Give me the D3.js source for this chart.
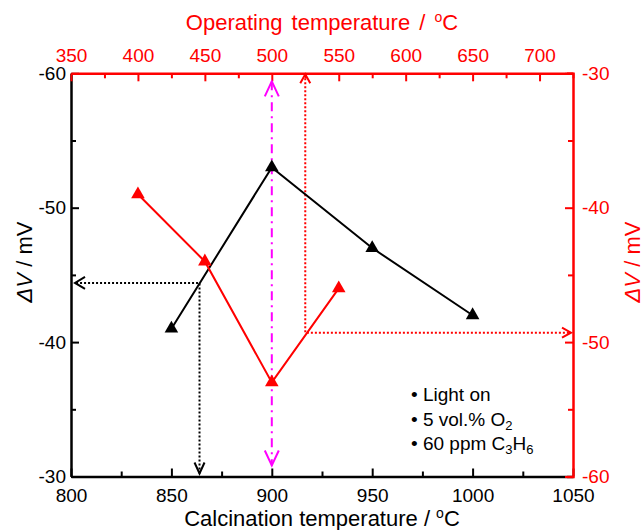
<!doctype html>
<html>
  <head>
    <meta charset="utf-8" />
    <title>Calcination / operating temperature</title>
    <style>
      body { margin: 0; background: #fff; }
      svg { display: block; }
      text { font-family: "Liberation Sans", Arial, sans-serif; }
    </style>
  </head>
  <body>
    <svg id="chart" width="644" height="530"></svg>
    <script src="https://d3js.org/d3.v7.min.js"></script>
    <script>
      // black series: calcination temperature (bottom) vs dV (left)
      const calcTemps = [850, 900, 950, 1000];
      const calcDV = [-41, -53, -47, -42];
      // red series: operating temperature (top) vs dV (right)
      const operTemps = [400, 450, 500, 550];
      const operDV = [-39, -44, -53, -46];

      const bottomTicks = [800, 850, 900, 950, 1000, 1050];
      const topTicks = [350, 400, 450, 500, 550, 600, 650, 700];
      const leftTicks = [-60, -50, -40, -30];
      const rightTicks = [-30, -40, -50, -60];

      // guide lines
      const peakCalc = [900];            // magenta dash-dot
      const blackGuide = [864, -44.4];   // calcination, left dV
      const redGuide = [525, -49.3];     // operating, right dV

      const legendLines = [
        [["Light on"]],
        [["5 vol.% O"], ["2", "sub"]],
        [["60 ppm C"], ["3", "sub"], ["H"], ["6", "sub"]],
      ];

      const RED = "#ff0000";
      const MAG = "#ff00ff";

      const margin = { top: 73.3, left: 71, right: 71, bottom: 53.5 };
      const W = 644, H = 530;
      const w = W - margin.left - margin.right;
      const h = H - margin.top - margin.bottom;

      const svg = d3.select("#chart");
      const g = svg.append("g").attr("transform", `translate(${margin.left},${margin.top})`);

      const xB = d3.scaleLinear().domain([800, 1050]).range([0, w]);
      const xT = d3.scaleLinear().domain([350, 725]).range([0, w]);
      const yL = d3.scaleLinear().domain([-60, -30]).range([0, h]);
      const yR = d3.scaleLinear().domain([-30, -60]).range([0, h]);

      function every(a, b, step) {
        const out = [];
        for (let v = a; v <= b + 1e-9; v += step) out.push(v);
        return out;
      }

      const plain = (d) => String(d); // keep ascii hyphen, no thousands comma

      function styleAxis(sel, color, majors, horizontal) {
        // minor ticks carry no label
        sel.selectAll(".tick").filter((d) => !majors.includes(d)).select("text").remove();
        sel.selectAll("text")
          .attr("fill", color)
          .style("font-size", "19px");
        sel.select(".domain").attr("stroke", color).attr("stroke-width", 2.5);
        sel.selectAll(".tick line")
          .attr("stroke", color)
          .attr("stroke-width", 2)
          .each(function (d) {
            const len = majors.includes(d) ? 8 : 5;
            const el = d3.select(this);
            if (horizontal) el.attr("y2", el.attr("y2") < 0 ? -len : len);
            else el.attr("x2", el.attr("x2") < 0 ? -len : len);
          });
      }

      // left (black)
      const gl = g.append("g").call(
        d3.axisLeft(yL).tickValues(every(-60, -30, 5)).tickFormat(plain)
          .tickSizeInner(-8).tickSizeOuter(0)
      );
      styleAxis(gl, "#000", leftTicks, false);
      gl.selectAll("text").attr("x", -5);

      // bottom (black)
      const gb = g.append("g").attr("transform", `translate(0,${h})`).call(
        d3.axisBottom(xB).tickValues(every(800, 1050, 25)).tickFormat(plain)
          .tickSizeInner(-8).tickSizeOuter(0)
      );
      styleAxis(gb, "#000", bottomTicks, true);
      gb.selectAll("text").attr("y", 12);

      // top (red)
      const gt = g.append("g").call(
        d3.axisTop(xT).tickValues(every(350, 725, 25)).tickFormat(plain)
          .tickSizeInner(-8).tickSizeOuter(0)
      );
      styleAxis(gt, RED, topTicks, true);
      gt.selectAll("text").attr("y", -11);

      // right (red)
      const gr = g.append("g").attr("transform", `translate(${w},0)`).call(
        d3.axisRight(yR).tickValues(every(-60, -30, 5)).tickFormat(plain)
          .tickSizeInner(-8).tickSizeOuter(-6)
      );
      styleAxis(gr, RED, rightTicks, false);
      gr.selectAll("text").attr("x", 9);

      // axis titles
      function degTitle(sel, label) {
        sel.append("tspan").text(label + " / ");
        sel.append("tspan").text("o").style("font-size", "14px").attr("dy", -8);
        sel.append("tspan").text("C").attr("dy", 8);
      }
      const tTop = svg.append("text")
        .attr("x", margin.left + w / 2).attr("y", 30)
        .attr("text-anchor", "middle").attr("fill", RED)
        .style("font-size", "22px").style("word-spacing", "3px");
      degTitle(tTop, "Operating temperature");

      const tBot = svg.append("text")
        .attr("x", margin.left + w / 2).attr("y", 526)
        .attr("text-anchor", "middle").attr("fill", "#000")
        .style("font-size", "22px");
      degTitle(tBot, "Calcination temperature");

      function dvTitle(x, color) {
        const t = svg.append("text")
          .attr("transform", `translate(${x},262) rotate(-90)`)
          .attr("text-anchor", "middle").attr("fill", color)
          .style("font-size", "22px");
        t.append("tspan").text("ΔV").style("font-style", "italic");
        t.append("tspan").text(" / mV");
      }
      dvTitle(32, "#000");
      dvTitle(640, RED);

      // open arrow head
      function chevron(x, y, dir, color, len, half) {
        let pts;
        if (dir === "up") pts = [[x - half, y + len], [x, y], [x + half, y + len]];
        if (dir === "down") pts = [[x - half, y - len], [x, y], [x + half, y - len]];
        if (dir === "left") pts = [[x + len, y - half], [x, y], [x + len, y + half]];
        if (dir === "right") pts = [[x - len, y - half], [x, y], [x - len, y + half]];
        g.append("path").attr("d", d3.line()(pts))
          .attr("fill", "none").attr("stroke", color).attr("stroke-width", 2);
      }

      // magenta dash-dot
      peakCalc.forEach((c) => {
        const x = xB(c);
        g.append("line").attr("x1", x).attr("x2", x).attr("y1", 8).attr("y2", h - 11)
          .attr("stroke", MAG).attr("stroke-width", 2).attr("stroke-dasharray", "9,5,2,5");
        chevron(x, 8, "up", MAG, 15, 7);
        chevron(x, h - 11, "down", MAG, 15, 7);
      });

      // black dotted guide
      {
        const x = xB(blackGuide[0]), y = yL(blackGuide[1]);
        g.append("path").attr("d", d3.line()([[x, h - 3], [x, y], [4, y]]))
          .attr("fill", "none").attr("stroke", "#000").attr("stroke-width", 2)
          .attr("stroke-dasharray", "2,2");
        chevron(4, y, "left", "#000", 10, 6);
        chevron(x, h - 3, "down", "#000", 11, 5);
      }

      // red dotted guide
      {
        const x = xT(redGuide[0]), y = yR(redGuide[1]);
        g.append("path").attr("d", d3.line()([[x, 1], [x, y], [w - 2, y]]))
          .attr("fill", "none").attr("stroke", RED).attr("stroke-width", 2)
          .attr("stroke-dasharray", "2,2");
        chevron(x, 1, "up", RED, 9, 5);
        chevron(w - 2, y, "right", RED, 9, 5);
      }

      // series
      const calcData = calcTemps.map((t, i) => [t, calcDV[i]]);
      const operData = operTemps.map((t, i) => [t, operDV[i]]);

      g.append("path")
        .attr("d", d3.line().x((d) => xB(d[0])).y((d) => yL(d[1]))(calcData))
        .attr("fill", "none").attr("stroke", "#000").attr("stroke-width", 2);
      g.append("path")
        .attr("d", d3.line().x((d) => xT(d[0])).y((d) => yR(d[1]))(operData))
        .attr("fill", "none").attr("stroke", RED).attr("stroke-width", 2);

      const tri = d3.symbol().type(d3.symbolTriangle).size(80);
      g.selectAll(".mk-calc").data(calcData).join("path")
        .attr("class", "mk-calc").attr("d", tri)
        .attr("transform", (d) => `translate(${xB(d[0])},${yL(d[1])})`)
        .attr("fill", "#000");
      g.selectAll(".mk-oper").data(operData).join("path")
        .attr("class", "mk-oper").attr("d", tri)
        .attr("transform", (d) => `translate(${xT(d[0])},${yR(d[1])})`)
        .attr("fill", RED);

      // legend
      const leg = svg.append("g");
      legendLines.forEach((parts, i) => {
        const t = leg.append("text")
          .attr("x", 411).attr("y", 401 + i * 24.5)
          .attr("fill", "#000").style("font-size", "19px");
        t.append("tspan").text("• ");
        let shift = 0;
        parts.forEach(([s, kind]) => {
          const sp = t.append("tspan").text(s);
          if (kind === "sub") {
            sp.style("font-size", "13px").attr("dy", 4 - shift);
            shift = 4;
          } else {
            if (shift) sp.attr("dy", -shift);
            shift = 0;
          }
        });
      });
    </script>
  </body>
</html>
